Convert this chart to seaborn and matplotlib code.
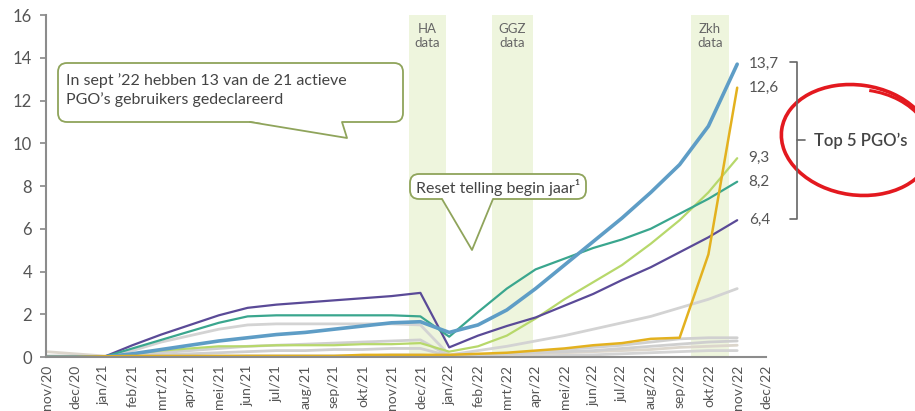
import matplotlib
matplotlib.use('Agg')
import matplotlib.pyplot as plt
from matplotlib.patches import FancyBboxPatch, Polygon, Arc
import seaborn as sns

# x-as: maanden
months = ['nov/20', 'dec/20', 'jan/21', 'feb/21', 'mrt/21', 'apr/21', 'mei/21', 'jun/21',
          'jul/21', 'aug/21', 'sep/21', 'okt/21', 'nov/21', 'dec/21', 'jan/22', 'feb/22',
          'mrt/22', 'apr/22', 'mei/22', 'jun/22', 'jul/22', 'aug/22', 'sep/22', 'okt/22',
          'nov/22', 'dec/22']

# top 5 PGO's
pgo_blue = [0, 0, 0, 0.15, 0.35, 0.55, 0.75, 0.9, 1.05, 1.15, 1.3, 1.45, 1.6, 1.65,
            1.15, 1.5, 2.2, 3.2, 4.3, 5.4, 6.5, 7.7, 9.0, 10.8, 13.7]
pgo_gold = [0, 0, 0.03, 0.05, 0.05, 0.05, 0.05, 0.05, 0.05, 0.05, 0.05, 0.1, 0.1, 0.1,
            0.1, 0.15, 0.2, 0.3, 0.4, 0.55, 0.65, 0.85, 0.9, 4.8, 12.6]
pgo_lime = [0, 0, 0, 0.15, 0.3, 0.4, 0.5, 0.5, 0.55, 0.55, 0.55, 0.6, 0.6, 0.65,
            0.25, 0.5, 1.0, 1.8, 2.7, 3.5, 4.3, 5.3, 6.4, 7.7, 9.3]
pgo_teal = [0, 0, 0, 0.4, 0.8, 1.2, 1.6, 1.9, 1.95, 1.95, 1.95, 1.95, 1.95, 1.9,
            0.95, 2.1, 3.2, 4.1, 4.6, 5.1, 5.5, 6.0, 6.7, 7.4, 8.2]
pgo_purple = [0, 0, 0, 0.55, 1.05, 1.5, 1.95, 2.3, 2.45, 2.55, 2.65, 2.75, 2.85, 3.0,
              0.45, 1.0, 1.45, 1.85, 2.4, 2.95, 3.6, 4.2, 4.9, 5.6, 6.4]

# overige PGO's (grijs)
grey_1 = [0, 0, 0, 0.3, 0.7, 1.0, 1.3, 1.5, 1.55, 1.55, 1.55, 1.55, 1.55, 1.5,
          0.1, 0.3, 0.5, 0.75, 1.0, 1.3, 1.6, 1.9, 2.3, 2.7, 3.2]
grey_2 = [0.05, 0.05, 0, 0.1, 0.2, 0.3, 0.4, 0.5, 0.55, 0.6, 0.65, 0.7, 0.75, 0.8,
          0.05, 0.1, 0.15, 0.25, 0.35, 0.45, 0.55, 0.7, 0.85, 0.9, 0.9]
grey_3 = [0, 0, 0, 0.05, 0.1, 0.15, 0.2, 0.25, 0.3, 0.3, 0.35, 0.35, 0.4, 0.4,
          0.05, 0.1, 0.15, 0.2, 0.25, 0.3, 0.4, 0.5, 0.6, 0.7, 0.75]
grey_4 = [0.25, 0.15, 0.05, 0.05, 0.05, 0.05, 0.05, 0.05, 0.05, 0.05, 0.05, 0.05, 0.05, 0.05,
          0.0, 0.05, 0.1, 0.15, 0.2, 0.25, 0.3, 0.35, 0.45, 0.5, 0.55]
grey_5 = [0, 0, 0, 0, 0, 0, 0, 0.05, 0.05, 0.05, 0.05, 0.05, 0.1, 0.1,
          0, 0, 0.02, 0.05, 0.08, 0.1, 0.15, 0.2, 0.25, 0.3, 0.3]

# periodes met nieuwe data
bands = [(12.6, 13.9, 'HA\ndata'), (15.5, 16.9, 'GGZ\ndata'), (22.4, 23.7, 'Zkh\ndata')]
end_labels = [(13.7, '13,7'), (12.6, '12,6'), (9.3, '9,3'), (8.2, '8,2'), (6.4, '6,4')]

sns.set_style('white')
plt.rcParams['font.family'] = ['Lato', 'DejaVu Sans']

fig = plt.figure(figsize=(9.15, 4.11), dpi=100)
ax = fig.add_axes([46 / 915, 54 / 411, 720 / 915, 342 / 411])

x = list(range(len(pgo_blue)))

for lo, hi, lab in bands:
    ax.axvspan(lo, hi, color='#eef5dd', zorder=0, lw=0)

for g, c in [(grey_5, '#d4d4d4'), (grey_4, '#dcd6cc'), (grey_3, '#cfcfcf'),
             (grey_2, '#d0d0d0'), (grey_1, '#d3d3d3')]:
    sns.lineplot(x=x, y=g, color=c, lw=2.0, ax=ax)

sns.lineplot(x=x, y=pgo_lime, color='#b7d86b', lw=1.6, ax=ax)
sns.lineplot(x=x, y=pgo_purple, color='#5a4a97', lw=1.6, ax=ax)
sns.lineplot(x=x, y=pgo_teal, color='#3aa68e', lw=1.6, ax=ax)
sns.lineplot(x=x, y=pgo_blue, color='#5e9dc6', lw=2.6, ax=ax)
sns.lineplot(x=x, y=pgo_gold, color='#e3b11f', lw=1.8, ax=ax)

ax.set_xlim(0, 25)
ax.set_ylim(0, 16)
ax.set_yticks(range(0, 17, 2))
ax.set_xticks(range(len(months)))
ax.set_xticklabels(months, rotation=90, fontsize=10, color='#555555')
ax.tick_params(axis='y', labelsize=12, colors='#888888', labelcolor='#555555',
               left=True, length=4, width=1.2, pad=6)
ax.tick_params(axis='x', bottom=False, pad=2)
sns.despine(ax=ax)
for s in ['left', 'bottom']:
    ax.spines[s].set_color('#8c8c8c')
    ax.spines[s].set_linewidth(1.5)
ax.set_xlabel('')
ax.set_ylabel('')

for v, lab in end_labels:
    ax.text(24.4, v, lab, va='center', ha='left', fontsize=11, color='#555555')

# overlay in pixels voor callouts
ov = fig.add_axes([0, 0, 1, 1], zorder=5)
ov.set_xlim(0, 915)
ov.set_ylim(411, 0)
ov.axis('off')
ov.patch.set_alpha(0)

for lo, hi, lab in bands:
    xc = 46 + (lo + hi) / 2 * 28.8
    ov.text(xc, 36, lab, ha='center', va='center', fontsize=9.5, color='#666666',
            linespacing=1.15)

edge = '#8fa45b'


def callout(x0, y0, x1, y1, b0, b1, tip):
    box = FancyBboxPatch((x0, y0), x1 - x0, y1 - y0, boxstyle='round,pad=0,rounding_size=9',
                         fc='white', ec=edge, lw=1.3)
    ov.add_patch(box)
    ov.add_patch(Polygon([(b0, y1 - 1), (b1, y1 - 1), tip], closed=True, fc='white', ec='none'))
    ov.plot([b0, tip[0], b1], [y1, tip[1], y1], color=edge, lw=1.3)


callout(58, 63, 403, 122, 250, 342, (347, 138))
ov.text(66, 90, "In sept \u201922 hebben 13 van de 21 actieve\nPGO\u2019s gebruikers gedeclareerd",
        ha='left', va='center', fontsize=11.5, color='#444444', linespacing=1.4)

callout(410, 174, 586, 199, 442, 493, (472, 250))
ov.text(416, 187, 'Reset telling begin jaar\u00b9', ha='left', va='center',
        fontsize=11.5, color='#444444')

# accolade top 5
bc = '#666666'
ov.plot([790, 797, 797, 790], [62, 62, 219, 219], color=bc, lw=1.2)
ov.plot([797, 805], [140, 140], color=bc, lw=1.2)
ov.text(814, 141, "Top 5 PGO\u2019s", ha='left', va='center', fontsize=12,
        color='#444444', fontweight='semibold')

# rode cirkel
ov.add_patch(Arc((857, 140), 152, 110, angle=8, theta1=0, theta2=360, color='#e3191f', lw=2.6))
ov.add_patch(Arc((862, 142), 140, 104, angle=8, theta1=270, theta2=330, color='#e3191f', lw=2.2))

plt.savefig('out.png', dpi=100)
plt.close()
